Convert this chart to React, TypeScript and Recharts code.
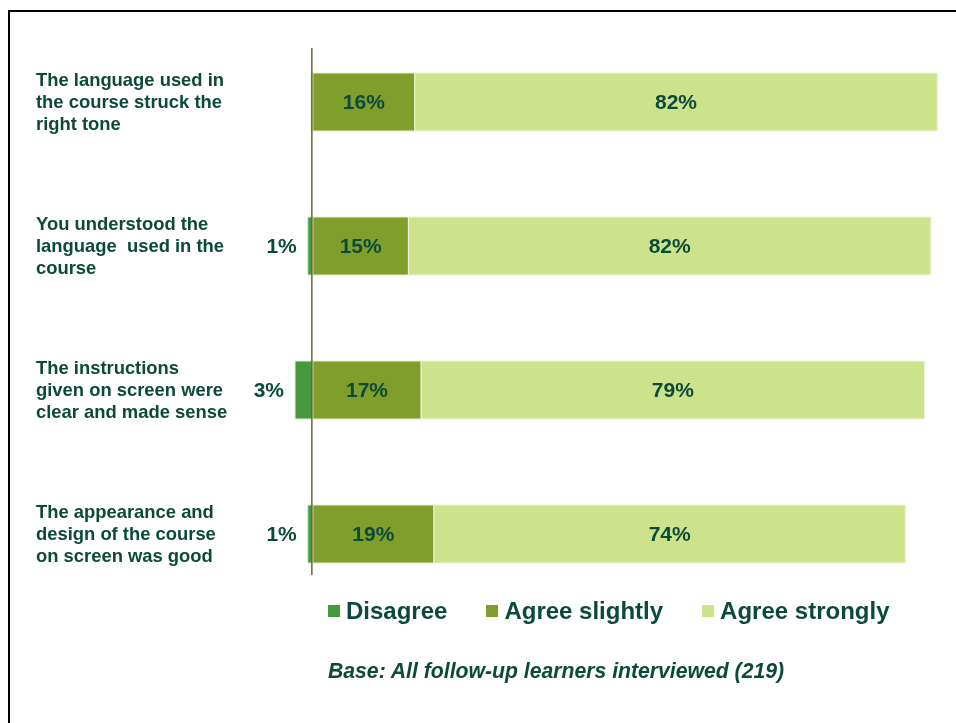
import React from 'react';
import { BarChart, Bar, XAxis, YAxis, LabelList, ReferenceLine, Legend } from 'recharts';

const categories: string[][] = [
  ['The language used in', 'the course struck the', 'right tone'],
  ['You understood the', 'language  used in the', 'course'],
  ['The instructions', 'given on screen were', 'clear and made sense'],
  ['The appearance and', 'design of the course', 'on screen was good'],
];
const disagree = [0.3, 0.8, 2.8, 0.8];
const disagreeLabels = ['', '1%', '3%', '1%'];
const agreeSlightly = [16, 15, 17, 19];
const agreeStrongly = [82, 82, 79, 74];
const seriesNames = ['Disagree', 'Agree slightly', 'Agree strongly'];
const seriesColors = ['#459a3e', '#7f9e2a', '#cde38b'];

const FONT = '"Liberation Sans", Arial, Helvetica, sans-serif';
const TEXT = '#0b4a3b';

const data = categories.map((lines, i) => ({
  name: lines.join('\n'),
  disagree: -disagree[i],
  slightly: agreeSlightly[i],
  strongly: agreeStrongly[i],
}));

const CategoryTick = (props: any) => {
  const { y, payload } = props;
  const lines = String(payload.value).split('\n');
  const lh = 22;
  return (
    <text x={26} y={y} fill={TEXT} fontSize={18.4} fontWeight="bold" fontFamily={FONT} style={{ whiteSpace: 'pre' }}>
      {lines.map((l, i) => (
        <tspan key={i} x={26} dy={i === 0 ? -((lines.length - 1) / 2) * lh + 6 : lh}>
          {l}
        </tspan>
      ))}
    </text>
  );
};

const DisagreeLabel = (props: any) => {
  const vb = props.viewBox || props;
  const { x, y, width, height } = vb;
  const text = disagreeLabels[props.index];
  if (!text) return null;
  const left = Math.min(x, x + width);
  return (
    <text x={left - 11} y={y + height / 2} dy={7} textAnchor="end" fill={TEXT} fontSize={21} fontWeight="bold" fontFamily={FONT}>
      {text}
    </text>
  );
};

const renderLegend = () => (
  <div style={{ display: 'flex', alignItems: 'center', fontFamily: FONT, fontWeight: 'bold', fontSize: 24, lineHeight: '26px', color: TEXT, whiteSpace: 'nowrap' }}>
    {seriesNames.map((n, i) => (
      <div key={n} style={{ display: 'flex', alignItems: 'center', marginRight: 39 }}>
        <span style={{ display: 'inline-block', width: 12, height: 12, background: seriesColors[i], marginRight: 6 }} />
        <span>{n}</span>
      </div>
    ))}
  </div>
);

const ZeroLine = (props: any) => {
  const { x1, y1, x2, y2 } = props;
  const top = Math.min(y1, y2);
  const bottom = Math.max(y1, y2);
  return <line x1={x1 - 1} x2={x2 - 1} y1={top + 18} y2={bottom - 31} stroke="#6b6a2e" strokeWidth={1.5} />;
};

const valueLabelProps = {
  position: 'center' as const,
  fill: TEXT,
  fontSize: 21,
  fontWeight: 'bold',
  fontFamily: FONT,
  formatter: (v: any) => `${v}%`,
};

export default function App() {
  return (
    <>
      <style>{'html,body{overflow:hidden;}'}</style>
      <div style={{ position: 'fixed', left: 8, top: 10, width: 960, height: 730, borderLeft: '2px solid #000', borderTop: '2px solid #000', boxSizing: 'border-box' }} />
      <div style={{ position: 'relative', top: 4, left: 2, width: 940, height: 711 }}>
        <div style={{ position: 'absolute', left: 0, top: 0 }}>
          <BarChart
            width={940}
            height={700}
            data={data}
            layout="vertical"
            stackOffset="sign"
            margin={{ top: 18, right: 0, bottom: 106, left: 0 }}
            barSize={58}
          >
            <XAxis type="number" domain={[-5, 100]} hide allowDataOverflow />
            <YAxis type="category" dataKey="name" width={271} axisLine={false} tickLine={false} tick={<CategoryTick />} interval={0} />
            <Bar dataKey="disagree" stackId="a" fill={seriesColors[0]} stroke="#e6f0cc" strokeWidth={1} isAnimationActive={false}>
              <LabelList dataKey="disagree" content={<DisagreeLabel />} />
            </Bar>
            <Bar dataKey="slightly" stackId="a" fill={seriesColors[1]} stroke="#e6f0cc" strokeWidth={1} isAnimationActive={false}>
              <LabelList dataKey="slightly" {...valueLabelProps} />
            </Bar>
            <Bar dataKey="strongly" stackId="a" fill={seriesColors[2]} stroke="#eef5dc" strokeWidth={1} isAnimationActive={false}>
              <LabelList dataKey="strongly" {...valueLabelProps} />
            </Bar>
            <ReferenceLine x={0} shape={<ZeroLine />} />
            <Legend
              layout="horizontal"
              verticalAlign="middle"
              align="center"
              content={renderLegend}
              wrapperStyle={{ position: 'absolute', left: 318, top: 586, width: 'auto' }}
            />
          </BarChart>
        </div>
        <div
          style={{
            position: 'absolute',
            left: 318,
            top: 647,
            fontFamily: FONT,
            fontWeight: 'bold',
            fontStyle: 'italic',
            fontSize: 21.2,
            lineHeight: '24px',
            color: TEXT,
            whiteSpace: 'nowrap',
          }}
        >
          Base: All follow-up learners interviewed (219)
        </div>
      </div>
    </>
  );
}
